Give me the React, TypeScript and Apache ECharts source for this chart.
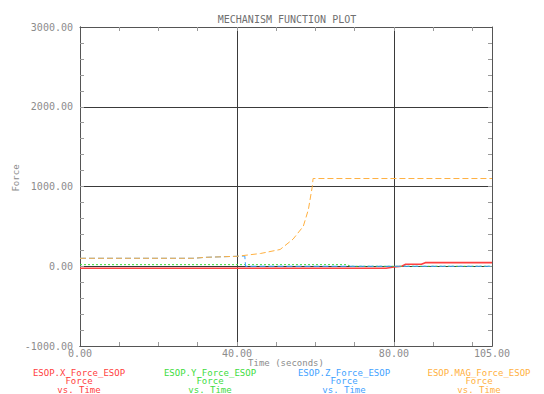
import React, { useEffect, useRef } from "react";
import * as echarts from "echarts";

const chartTitle = "MECHANISM FUNCTION PLOT";
const xAxisTitle = "Time (seconds)";
const yAxisTitle = "Force";

const seriesNames = [
  "ESOP.X_Force_ESOP",
  "ESOP.Y_Force_ESOP",
  "ESOP.Z_Force_ESOP",
  "ESOP.MAG_Force_ESOP",
];
const seriesColors = ["#ff4040", "#3ddc3d", "#3fa2ff", "#ffb040"];

const redX = [0, 78, 80, 82, 83, 87, 88, 105];
const redY = [-25, -25, -10, 0, 25, 25, 45, 45];

const greenX = [0, 68, 69, 105];
const greenY = [20, 20, 0, 0];

const blueX = [0, 29, 32, 40, 42, 42.2, 105];
const blueY = [100, 100, 112, 125, 128, 0, 0];

const orangeX = [0, 29, 32, 40, 46, 51, 54.3, 56.9, 58.2, 59.2, 59.4, 105];
const orangeY = [100, 100, 112, 125, 160, 210, 340, 500, 710, 1000, 1100, 1100];

const xMinorTicks = [10, 20, 30, 40, 50, 60, 70, 80, 90, 100];
const yMinorTicks = [
  -800, -600, -400, -200, 0, 200, 400, 600, 800, 1000, 1200, 1400, 1600, 1800,
  2000, 2200, 2400, 2600, 2800,
];

const legendCenters = [79, 210, 344, 479];

const zip = (xs: number[], ys: number[]) => xs.map((x, i) => [x, ys[i]]);

export default function App() {
  const ref = useRef<HTMLDivElement>(null);
  useEffect(() => {
    document.body.style.margin = "0";
    const chart = echarts.init(ref.current!, null, { renderer: "svg" });
    const font = "DejaVu Sans Mono";
    const labelColor = "#8c8c8c";
    const tickStyle = { color: "#9a9a9a", width: 1 };
    const frame = { show: true, onZero: false, lineStyle: { color: "#555", width: 1 } };
    const gridLine = { show: true, lineStyle: { color: "#3a3a3a", width: 1 } };
    const datasets = [zip(redX, redY), zip(greenX, greenY), zip(blueX, blueY), zip(orangeX, orangeY)];
    const lineTypes: any[] = ["solid", [2, 2], [6, 3], [6, 3]];
    const widths = [1.6, 1, 1, 1];

    const xTickAxis = (position: string) => ({
      type: "value",
      min: 0,
      max: 105,
      interval: 10,
      position,
      axisLine: frame,
      axisTick: { show: true, inside: true, length: 4, customValues: xMinorTicks, lineStyle: tickStyle },
      axisLabel: { show: false },
      splitLine: { show: false },
    });
    const yTickAxis = (position: string) => ({
      type: "value",
      min: -1000,
      max: 3000,
      interval: 200,
      position,
      axisLine: frame,
      axisTick: { show: true, inside: true, length: 4, customValues: yMinorTicks, lineStyle: tickStyle },
      axisLabel: { show: false },
      splitLine: { show: false },
    });

    chart.setOption({
      animation: false,
      title: {
        text: chartTitle,
        left: 282,
        top: 9,
        textAlign: "center",
        textStyle: { fontFamily: font, fontSize: 10, fontWeight: "normal", color: "#707070" },
      },
      grid: { left: 80, right: 52, top: 27, bottom: 48 },
      xAxis: [
        {
          type: "value",
          min: 0,
          max: 105,
          interval: 40,
          position: "bottom",
          axisLine: frame,
          axisTick: { show: false },
          axisLabel: {
            show: true,
            margin: 2,
            fontFamily: font,
            fontSize: 10,
            color: labelColor,
            showMaxLabel: true,
            showMinLabel: true,
            formatter: (v: number) => v.toFixed(2),
          },
          splitLine: gridLine,
        },
        xTickAxis("top"),
        xTickAxis("bottom"),
      ],
      yAxis: [
        {
          type: "value",
          min: -1000,
          max: 3000,
          interval: 1000,
          position: "left",
          axisLine: frame,
          axisTick: { show: false },
          axisLabel: {
            show: true,
            margin: 7,
            fontFamily: font,
            fontSize: 10,
            color: labelColor,
            formatter: (v: number) => v.toFixed(2),
          },
          splitLine: gridLine,
        },
        yTickAxis("right"),
        yTickAxis("left"),
      ],
      series: seriesNames.map((name, i) => ({
        type: "line",
        name,
        xAxisIndex: 0,
        yAxisIndex: 0,
        data: datasets[i],
        showSymbol: false,
        symbol: "none",
        z: 3 + i,
        lineStyle: { color: seriesColors[i], width: widths[i], type: lineTypes[i] },
        itemStyle: { color: seriesColors[i] },
      })),
      graphic: [
        {
          type: "text",
          x: 16,
          y: 178,
          rotation: Math.PI / 2,
          style: {
            text: yAxisTitle,
            fontFamily: font,
            fontSize: 9,
            fill: labelColor,
            textAlign: "center",
            textVerticalAlign: "middle",
          },
        },
        {
          type: "text",
          x: 286,
          y: 363,
          style: {
            text: xAxisTitle,
            fontFamily: font,
            fontSize: 9,
            fill: labelColor,
            textAlign: "center",
            textVerticalAlign: "middle",
          },
        },
        ...seriesNames.map((name, i) => ({
          type: "text",
          x: legendCenters[i],
          y: 368.5,
          style: {
            text: `${name}\nForce\nvs. Time`,
            fontFamily: font,
            fontSize: 9,
            lineHeight: 8.5,
            fill: seriesColors[i],
            textAlign: "center",
            textVerticalAlign: "top",
          },
        })),
      ],
    });
    return () => chart.dispose();
  }, []);
  return <div ref={ref} style={{ width: 544, height: 394 }} />;
}
